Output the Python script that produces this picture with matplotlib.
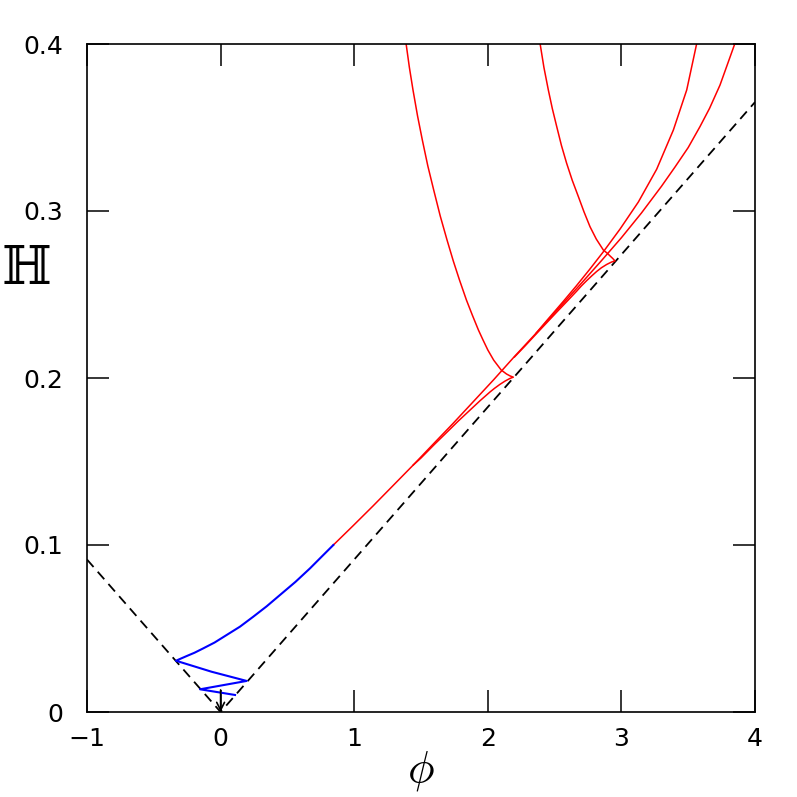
import numpy as np
import matplotlib
matplotlib.use("Agg")
import matplotlib.pyplot as plt

# potential-only line H = sqrt(V/3), dashed
phi_v = [-1.0, 0.0, 4.0]
H_v = [0.0913, 0.0, 0.3652]

# attractor, followed from the top right down to H = 0.1 (red)
phi_main = [0.844, 0.99, 1.14, 1.29, 1.442, 1.59, 1.74, 1.89, 2.042, 2.20,
            2.36, 2.52, 2.69, 2.85, 3.00, 3.15, 3.30, 3.40, 3.50, 3.588,
            3.66, 3.738, 3.79, 3.85]
H_main = [0.1000, 0.1114, 0.1233, 0.1355, 0.1479, 0.1603, 0.1728, 0.1857,
          0.1988, 0.2129, 0.2267, 0.2408, 0.2558, 0.2702, 0.2840, 0.2988,
          0.3148, 0.3262, 0.3380, 0.3505, 0.3615, 0.3754, 0.3870, 0.4004]

# oscillations at the end (blue)
phi_blue = [0.844, 0.76, 0.669, 0.56, 0.445, 0.345, 0.245, 0.145, 0.045,
            -0.045, -0.130, -0.195, -0.254, -0.30, -0.334,
            -0.067, 0.195, -0.154, 0.108]
H_blue = [0.1000, 0.0933, 0.0860, 0.0779, 0.0701, 0.0633, 0.0571, 0.0511,
          0.0461, 0.0416, 0.0381, 0.0355, 0.0335, 0.0319, 0.0307,
          0.0241, 0.0186, 0.0136, 0.0102]

# trajectory 1: from the top, turns at phi ~ 2.19
phi_t1 = [1.388, 1.413, 1.440, 1.474, 1.510, 1.551, 1.595, 1.644, 1.695,
          1.742, 1.788, 1.840, 1.884, 1.930, 1.964, 2.000, 2.044, 2.100,
          2.140, 2.168, 2.191,
          2.165, 2.13, 2.091, 2.05, 2.016, 1.942, 1.867, 1.78, 1.70, 1.60,
          1.50, 1.442]
H_t1 = [0.4004, 0.3860, 0.3725, 0.3570, 0.3425, 0.3270, 0.3126, 0.2970,
        0.2826, 0.2700, 0.2587, 0.2467, 0.2377, 0.2287, 0.2228, 0.2168,
        0.2107, 0.2048, 0.2024, 0.2012, 0.2005,
        0.1997, 0.1982, 0.1962, 0.1938, 0.1916, 0.1864, 0.1808, 0.1743,
        0.1680, 0.1602, 0.1521, 0.1479]

# trajectory 2: from the top, turns at phi ~ 2.95
phi_t2 = [2.391, 2.420, 2.453, 2.483, 2.516, 2.551, 2.590, 2.632, 2.678,
          2.720, 2.765, 2.812, 2.865, 2.893, 2.915, 2.935, 2.952,
          2.925, 2.89, 2.85, 2.815, 2.78, 2.74, 2.70, 2.665, 2.60, 2.52,
          2.44, 2.36, 2.28, 2.20]
H_t2 = [0.4004, 0.3860, 0.3725, 0.3613, 0.3505, 0.3393, 0.3286, 0.3184,
        0.3086, 0.2995, 0.2906, 0.2832, 0.2766, 0.2748, 0.2731, 0.2716,
        0.2701,
        0.2694, 0.2680, 0.2660, 0.2638, 0.2613, 0.2583, 0.2551, 0.2520,
        0.2465, 0.2398, 0.2330, 0.2262, 0.2193, 0.2126]

# trajectory 3: rolling down from phi ~ 3.56
phi_t3 = [3.564, 3.489, 3.389, 3.264, 3.127, 2.990, 2.865, 2.76, 2.66,
          2.56, 2.45, 2.36]
H_t3 = [0.4004, 0.3725, 0.3485, 0.3250, 0.3054, 0.2892, 0.2756, 0.2648,
        0.2549, 0.2454, 0.2352, 0.2267]

# arrow at the end
arrow_phi = 0.0
arrow_H = [0.0132, 0.0]

x_ticks = [-1, 0, 1, 2, 3, 4]
x_labels = ['\u22121', '0', '1', '2', '3', '4']
y_ticks = [0, 0.1, 0.2, 0.3, 0.4]
y_labels = ['0', '0.1', '0.2', '0.3', '0.4']

fig = plt.figure(figsize=(7.97, 7.97), dpi=100)
ax = fig.add_axes([87 / 797, 85 / 797, 668 / 797, 668 / 797])

ax.plot(phi_v, H_v, color='black', lw=1.3, linestyle=(0, (5.5, 3.5)))

red = '#ff0000'
for px, py in [(phi_t1, H_t1), (phi_t2, H_t2), (phi_t3, H_t3),
               (phi_main, H_main)]:
    ax.plot(px, py, color=red, lw=1.1)
ax.plot(phi_blue, H_blue, color='#0000ff', lw=1.5)

ax.annotate('', xy=(arrow_phi, arrow_H[1]), xytext=(arrow_phi, arrow_H[0]),
            arrowprops=dict(arrowstyle='->', color='black', lw=1.2,
                            shrinkA=0, shrinkB=0, mutation_scale=14))

ax.set_xlim(-1, 4)
ax.set_ylim(0, 0.4)
ax.set_xticks(x_ticks)
ax.set_xticklabels(x_labels)
ax.set_yticks(y_ticks)
ax.set_yticklabels(y_labels)
ax.tick_params(direction='in', length=16, width=1.1, top=True, right=True,
               labelsize=18)
ax.tick_params(axis='x', pad=11)
ax.tick_params(axis='y', pad=17)
for s in ax.spines.values():
    s.set_linewidth(1.2)

ax.set_xlabel(r'$\phi$', fontsize=32, math_fontfamily='cm', va='center')
ax.set_ylabel('\u210d', fontsize=38, family=['DejaVu Serif', 'DejaVu Sans'],
              rotation=0, ha='center', va='center')
ax.yaxis.set_label_coords(-0.091, 0.662)
ax.xaxis.set_label_coords(0.5, -0.088)

fig.savefig('out.png', dpi=100)
